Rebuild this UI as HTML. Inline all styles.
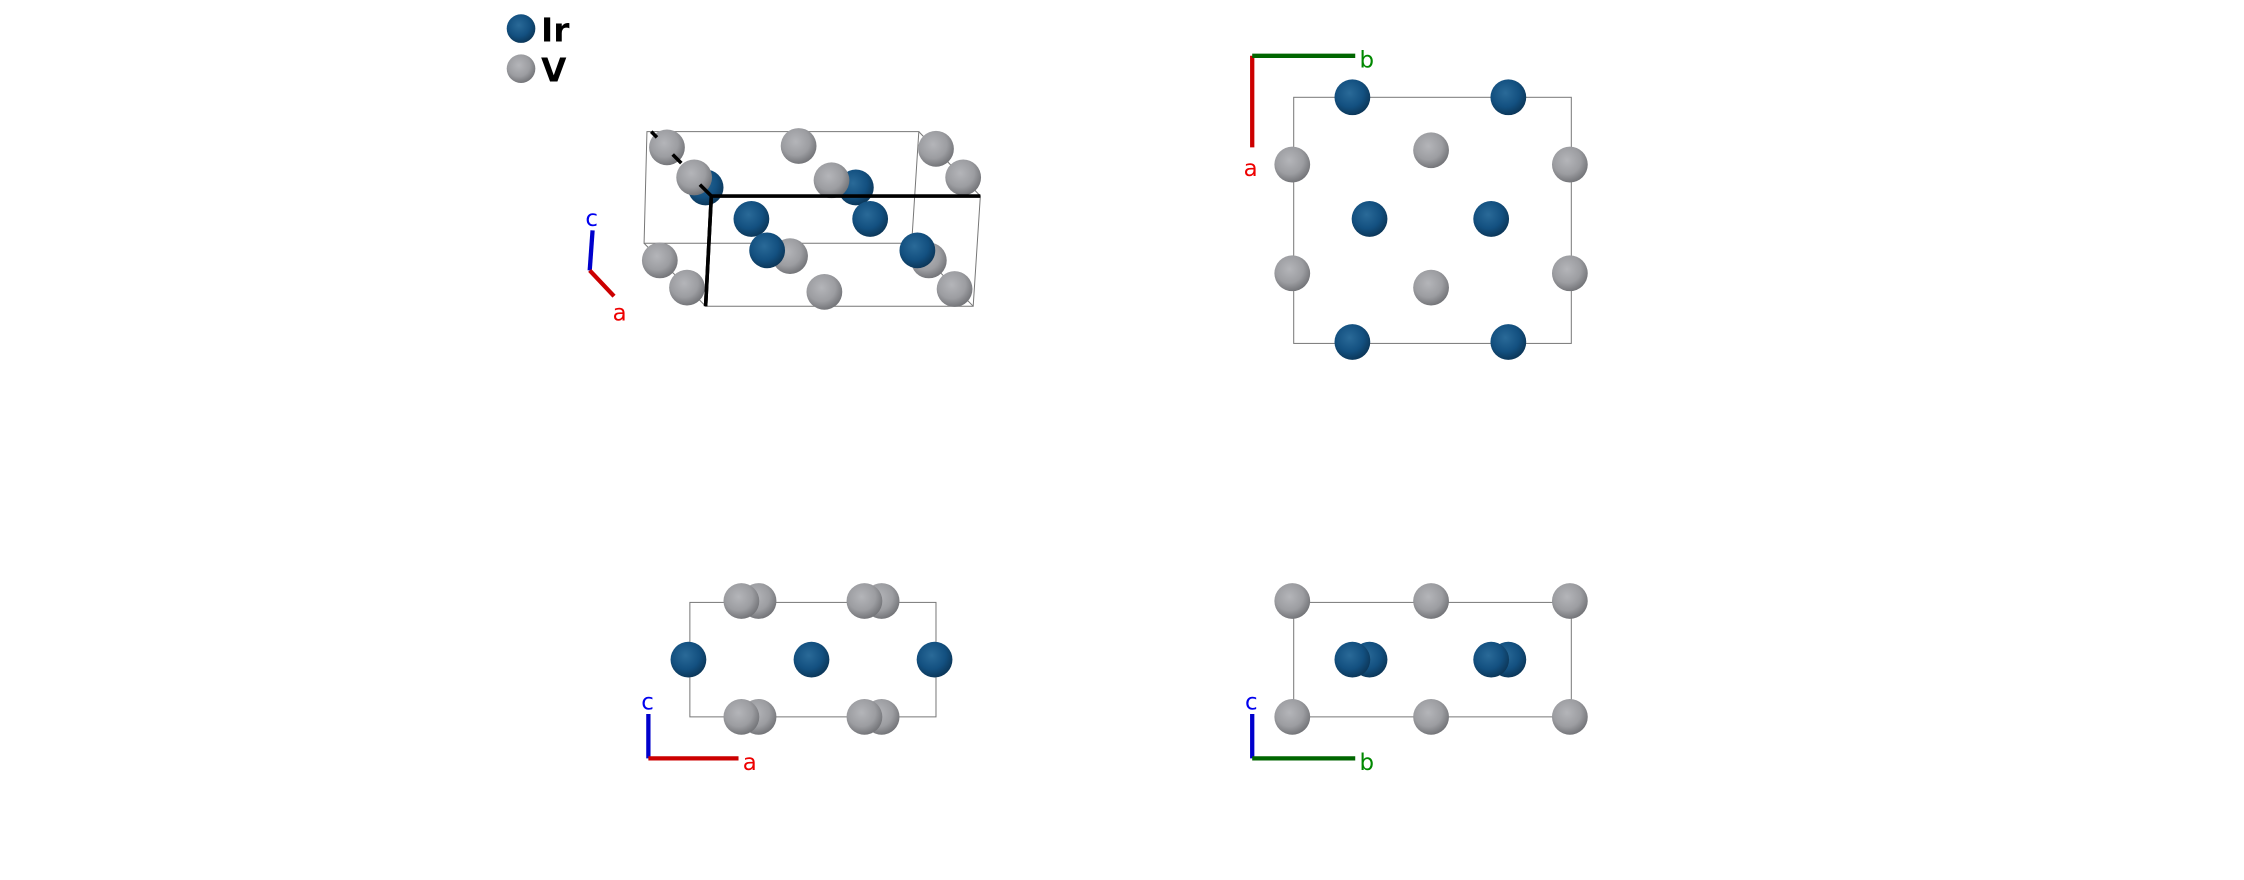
<!DOCTYPE html>
<html><head><style>html,body{margin:0;padding:0;background:#fff}svg{display:block}</style></head>
<body>
<svg width="2244" height="880" viewBox="0 0 1568 615" xmlns="http://www.w3.org/2000/svg" font-family="DejaVu Sans, Liberation Sans, sans-serif">
<defs>
<radialGradient id="gI" cx="0.42" cy="0.38" r="0.65"><stop offset="0" stop-color="#2a6a98"/><stop offset="0.6" stop-color="#135080"/><stop offset="1" stop-color="#0b3556"/></radialGradient>
<radialGradient id="gV" cx="0.42" cy="0.38" r="0.65"><stop offset="0" stop-color="#b4b5b9"/><stop offset="0.6" stop-color="#9c9da1"/><stop offset="1" stop-color="#707175"/></radialGradient>
</defs>
<!-- legend -->
<circle cx="364" cy="20" r="10" fill="url(#gI)"/><text x="378" y="29" font-size="23" font-weight="bold">Ir</text>
<circle cx="364" cy="48" r="10" fill="url(#gV)"/><text x="378" y="57" font-size="23" font-weight="bold">V</text>

<!-- panel 1 -->
<g stroke="#777" stroke-width="0.7" fill="none">
<polygon points="452,92 642,92 637,170 450,170"/>
<polygon points="497,137 685,137 680,214 493,214"/>
<line x1="450" y1="170" x2="493" y2="214"/><line x1="642" y1="92" x2="685" y2="137"/><line x1="637" y1="170" x2="680" y2="214"/>
</g>
<g fill="url(#gV)">
<circle cx="466" cy="103" r="12.5"/><circle cx="558" cy="102" r="12.5"/><circle cx="654" cy="104" r="12.5"/>
<circle cx="673" cy="124" r="12.5"/>
</g>
<line x1="455" y1="92" x2="459" y2="96" stroke="#000" stroke-width="2.5"/>
<line x1="470" y1="108" x2="476" y2="114" stroke="#000" stroke-width="2.5"/>
<circle cx="493" cy="131" r="12.5" fill="url(#gI)"/><circle cx="485" cy="124" r="12.5" fill="url(#gV)"/>
<line x1="489" y1="129" x2="497" y2="137" stroke="#000" stroke-width="2.5"/>
<circle cx="598" cy="131" r="12.5" fill="url(#gI)"/><circle cx="581" cy="126" r="12.5" fill="url(#gV)"/>
<line x1="497" y1="137" x2="685" y2="137" stroke="#000" stroke-width="2.5"/>
<line x1="497" y1="137" x2="493" y2="214" stroke="#000" stroke-width="2.5"/>
<circle cx="525" cy="153" r="12.5" fill="url(#gI)"/><circle cx="608" cy="153" r="12.5" fill="url(#gI)"/>
<circle cx="552" cy="179" r="12.5" fill="url(#gV)"/><circle cx="536" cy="175" r="12.5" fill="url(#gI)"/>
<circle cx="649" cy="182" r="12.5" fill="url(#gV)"/><circle cx="641" cy="175" r="12.5" fill="url(#gI)"/>
<circle cx="461" cy="182" r="12.5" fill="url(#gV)"/><circle cx="480" cy="201" r="12.5" fill="url(#gV)"/>
<line x1="497" y1="137" x2="493" y2="214" stroke="#000" stroke-width="2.5"/>
<circle cx="576" cy="204" r="12.5" fill="url(#gV)"/><circle cx="667" cy="202" r="12.5" fill="url(#gV)"/>
<line x1="414" y1="161" x2="412" y2="189" stroke="#0000cc" stroke-width="3"/>
<line x1="412" y1="189" x2="429" y2="207" stroke="#cc0000" stroke-width="3"/>
<text x="409" y="158" font-size="16" fill="#0000ee">c</text><text x="428" y="224" font-size="16" fill="#ee0000">a</text>

<!-- panel 2 -->
<rect x="904" y="68" width="194" height="172" fill="none" stroke="#777" stroke-width="0.7"/>
<g fill="url(#gI)"><circle cx="945" cy="68" r="12.5"/><circle cx="1054" cy="68" r="12.5"/><circle cx="957" cy="153" r="12.5"/><circle cx="1042" cy="153" r="12.5"/><circle cx="945" cy="239" r="12.5"/><circle cx="1054" cy="239" r="12.5"/></g>
<g fill="url(#gV)"><circle cx="903" cy="115" r="12.5"/><circle cx="1097" cy="115" r="12.5"/><circle cx="1000" cy="105" r="12.5"/><circle cx="903" cy="191" r="12.5"/><circle cx="1097" cy="191" r="12.5"/><circle cx="1000" cy="201" r="12.5"/></g>
<line x1="875" y1="39" x2="875" y2="103" stroke="#cc0000" stroke-width="3"/>
<line x1="875" y1="39" x2="947" y2="39" stroke="#006600" stroke-width="3"/>
<text x="950" y="47" font-size="16" fill="#008800">b</text><text x="869" y="123" font-size="16" fill="#ee0000">a</text>

<!-- panel 3 -->
<rect x="482" y="421" width="172" height="80" fill="none" stroke="#777" stroke-width="0.7"/>
<g fill="url(#gV)"><circle cx="530" cy="420" r="12.5"/><circle cx="518" cy="420" r="12.5"/><circle cx="616" cy="420" r="12.5"/><circle cx="604" cy="420" r="12.5"/>
<circle cx="530" cy="501" r="12.5"/><circle cx="518" cy="501" r="12.5"/><circle cx="616" cy="501" r="12.5"/><circle cx="604" cy="501" r="12.5"/></g>
<g fill="url(#gI)"><circle cx="481" cy="461" r="12.5"/><circle cx="567" cy="461" r="12.5"/><circle cx="653" cy="461" r="12.5"/></g>
<line x1="453" y1="499" x2="453" y2="530" stroke="#0000cc" stroke-width="3"/>
<line x1="453" y1="530" x2="516" y2="530" stroke="#cc0000" stroke-width="3"/>
<text x="448" y="496" font-size="16" fill="#0000ee">c</text><text x="519" y="538" font-size="16" fill="#ee0000">a</text>

<!-- panel 4 -->
<rect x="904" y="421" width="194" height="80" fill="none" stroke="#777" stroke-width="0.7"/>
<g fill="url(#gV)"><circle cx="903" cy="420" r="12.5"/><circle cx="1000" cy="420" r="12.5"/><circle cx="1097" cy="420" r="12.5"/><circle cx="903" cy="501" r="12.5"/><circle cx="1000" cy="501" r="12.5"/><circle cx="1097" cy="501" r="12.5"/></g>
<g fill="url(#gI)"><circle cx="957" cy="461" r="12.5"/><circle cx="945" cy="461" r="12.5"/><circle cx="1054" cy="461" r="12.5"/><circle cx="1042" cy="461" r="12.5"/></g>
<line x1="875" y1="499" x2="875" y2="530" stroke="#0000cc" stroke-width="3"/>
<line x1="875" y1="530" x2="947" y2="530" stroke="#006600" stroke-width="3"/>
<text x="870" y="496" font-size="16" fill="#0000ee">c</text><text x="950" y="538" font-size="16" fill="#008800">b</text>
</svg>
</body></html>
